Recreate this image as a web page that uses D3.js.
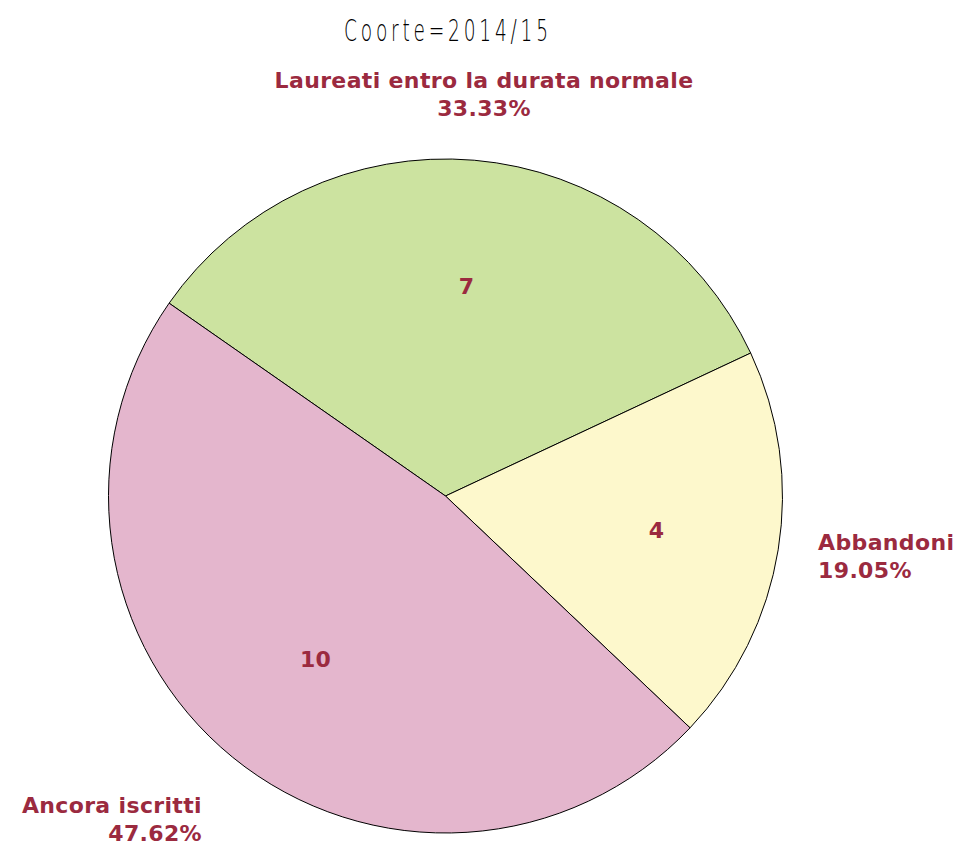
<!DOCTYPE html>
<html><head><meta charset="utf-8">
<script src="https://cdn.jsdelivr.net/npm/d3@7"></script>
<style>body{margin:0;background:#fff;}svg{display:block;}</style>
</head><body>
<script>
const title = "Coorte=2014/15";
const categories = ["Laureati entro la durata normale", "Abbandoni", "Ancora iscritti"];
const values = [7, 4, 10];
const colors = ["#cce3a0", "#fdf8cc", "#e4b6cd"];
const labelColor = "#9b2a3f";

const W = 970, H = 855;
const cx = 445.5, cy = 496, R = 337;
const svg = d3.select("body").append("svg").attr("width", W).attr("height", H);

// title: thin, narrow, spaced lettering
const sx = 0.62;
svg.append("g").attr("transform", `translate(${cx + 0.5},41) scale(${sx},1)`)
  .append("text").attr("x", 0).attr("y", 0).attr("text-anchor", "middle")
  .attr("font-family", "DejaVu Sans").attr("font-size", 30).attr("font-weight", 200)
  .attr("fill", "#000").attr("textLength", 204 / sx).attr("lengthAdjust", "spacing")
  .text(title);

const total = d3.sum(values);
const start = -55.1 * Math.PI / 180;
const pie = d3.pie().sort(null).value(d => d).startAngle(start).endAngle(start + 2 * Math.PI);
const arcs = pie(values);
const arc = d3.arc().innerRadius(0).outerRadius(R);
const g = svg.append("g").attr("transform", `translate(${cx},${cy})`);
g.selectAll("path").data(arcs).join("path")
  .attr("d", arc).attr("fill", (d, i) => colors[i])
  .attr("stroke", "#000").attr("stroke-width", 1);

const inner = d3.arc().innerRadius(R * 0.625).outerRadius(R * 0.625);
g.selectAll("text.v").data(arcs).join("text").attr("class", "v")
  .attr("transform", d => { const [x, y] = inner.centroid(d); return `translate(${x + 3},${y})`; })
  .attr("text-anchor", "middle").attr("dy", "0.36em")
  .attr("font-family", "DejaVu Sans").attr("font-weight", "bold").attr("font-size", 22)
  .attr("fill", labelColor).text(d => d.data);

// outer labels (layout: radius factor and pixel nudge per label position)
const labelRadius = [1.198, 1.12, 1.2];
const labelNudge = [[4, 0], [0, 0], [12, 10]];
arcs.forEach((d, i) => {
  const mid = (d.startAngle + d.endAngle) / 2;
  const r = R * labelRadius[i];
  const x = r * Math.sin(mid) + labelNudge[i][0];
  const y = -r * Math.cos(mid) + labelNudge[i][1];
  const s = Math.sin(mid);
  const anchor = Math.abs(s) < 0.3 ? "middle" : (s > 0 ? "start" : "end");
  const t = g.append("text").attr("text-anchor", anchor)
    .attr("font-family", "DejaVu Sans").attr("font-weight", "bold").attr("font-size", 22)
    .attr("letter-spacing", 0.35)
    .attr("fill", labelColor);
  const pct = (100 * d.data / total).toFixed(2) + "%";
  t.append("tspan").attr("x", x).attr("y", y - 14 + 8).text(categories[i]);
  t.append("tspan").attr("x", x).attr("y", y + 14 + 8).text(pct);
});
</script>
</body></html>
